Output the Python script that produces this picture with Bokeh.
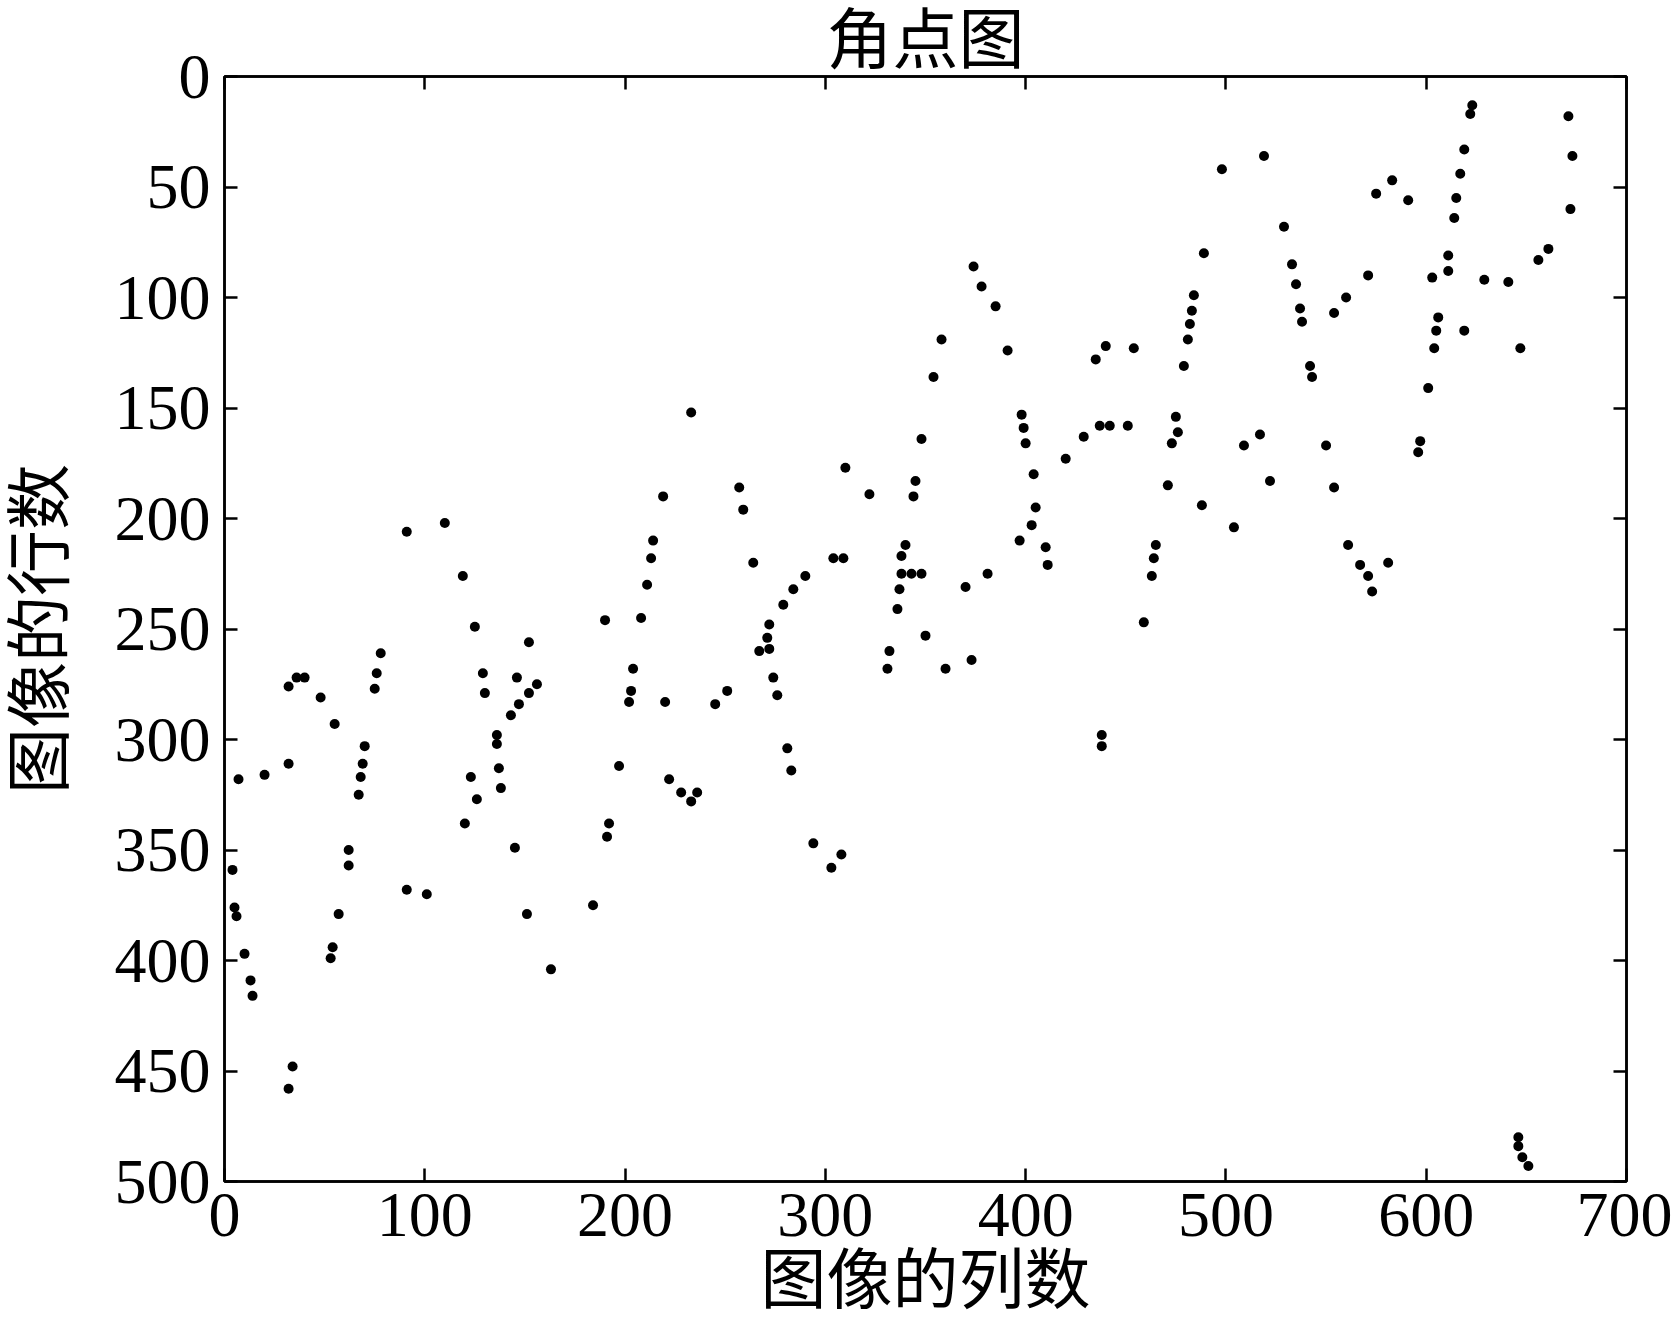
from bokeh.plotting import figure
from bokeh.models import Range1d, LinearAxis, FixedTicker
from bokeh.embed import file_html
from bokeh.resources import INLINE

# corner points: image column (x) and image row (y)
col_x = [233, 374, 378, 385, 358, 391, 354, 398, 399, 400, 348, 435, 440, 454, 429, 437, 442, 451,
         623, 622, 671, 619, 673, 519, 498, 617, 583, 575, 591, 615, 614, 672, 529, 489, 611, 661,
         656, 533, 571, 603, 611, 629, 641, 535, 484, 560, 483, 537, 538, 554, 482, 481, 606, 605,
         619, 604, 647, 479, 542, 543, 601, 475, 476, 473, 509, 517, 550, 597,
         596, 471, 522, 554, 488, 504, 561, 567, 581, 571, 573,
         420, 404, 310, 257, 259, 322, 345, 344, 405, 403, 397, 410, 411, 465, 464, 463, 459, 264,
         304, 309, 290, 284, 279, 272, 271, 272, 267, 274, 276, 251, 245, 281, 283, 236, 340, 338,
         338, 343, 348, 337, 336, 350, 332, 331, 360, 373, 370, 381, 438, 438,
         219, 91, 110, 214, 213, 211, 119, 190, 208, 125, 152, 78, 76, 75, 129, 130, 146, 156, 152,
         147, 143, 204, 203, 202, 220, 32, 36, 40, 48, 55, 136, 136, 137, 138, 70, 69, 68, 67, 32,
         20, 7, 123, 126, 197, 222, 228, 233,
         120, 192, 191, 145, 62, 62, 4, 91, 101, 184, 5, 6, 57, 151, 54, 53, 10, 13, 14, 163, 34, 32,
         294, 308, 303,
         646, 646, 648, 651]
row_y = [152, 86, 95, 104, 119, 124, 136, 153, 159, 166, 164, 128, 122, 123, 163, 158, 158, 158,
         13, 17, 18, 33, 36, 36, 42, 44, 47, 53, 56, 55, 64, 60, 68, 80, 81, 78,
         83, 85, 90, 91, 88, 92, 93, 94, 99, 100, 106, 105, 111, 107, 112, 119, 109, 115,
         115, 123, 123, 131, 131, 136, 141, 154, 161, 166, 167, 162, 167, 165,
         170, 185, 183, 186, 194, 204, 212, 221, 220, 226, 233,
         173, 180, 177, 186, 196, 189, 183, 190, 195, 203, 210, 213, 221, 212, 218, 226, 247, 220,
         218, 218, 226, 232, 239, 248, 254, 259, 260, 272, 280, 278, 284, 304, 314, 324, 212, 217,
         225, 225, 225, 232, 241, 253, 260, 268, 268, 264, 231, 225, 298, 303,
         190, 206, 202, 210, 218, 230, 226, 246, 245, 249, 256, 261, 270, 277, 270, 279, 272, 275, 279,
         284, 289, 268, 278, 283, 283, 276, 272, 272, 281, 293, 298, 302, 313, 322, 303, 311, 317, 325, 311,
         316, 318, 317, 327, 312, 318, 324, 328,
         338, 338, 344, 349, 350, 357, 359, 368, 370, 375, 376, 380, 379, 379, 394, 399, 397, 409, 416, 404, 448, 458,
         347, 352, 358,
         480, 484, 489, 493]

x_ticks = [0, 100, 200, 300, 400, 500, 600, 700]
y_ticks = [0, 50, 100, 150, 200, 250, 300, 350, 400, 450, 500]

title_text = "角点图"
x_label = "图像的列数"
y_label = "图像的行数"

NUM_FONT = "Liberation Serif"
# serif metrics first (compact text box), CJK glyphs come from Noto Sans CJK SC
CJK_FONT = "Liberation Serif, Noto Sans CJK SC"

p = figure(width=1672, height=1321, output_backend="svg", toolbar_location=None,
           x_range=Range1d(0, 700), y_range=Range1d(500, 0),
           min_border_left=222, min_border_right=46, min_border_top=76, min_border_bottom=140,
           title=title_text)
p.background_fill_color = "white"
p.border_fill_color = "white"
p.outline_line_color = "black"
p.outline_line_width = 2.5
p.grid.visible = False

p.title.align = "center"
p.title.text_font = CJK_FONT
p.title.text_font_size = "66px"
p.title.text_font_style = "normal"
p.title.text_color = "black"
p.title.standoff = 0


def style_axis(ax, ticks, show_labels):
    ax.ticker = FixedTicker(ticks=ticks)
    ax.axis_line_color = "black"
    ax.axis_line_width = 2.5
    ax.major_tick_line_color = "black"
    ax.major_tick_line_width = 2.5
    ax.major_tick_in = 13
    ax.major_tick_out = 0
    ax.minor_tick_line_color = None
    if show_labels:
        ax.major_label_text_font = NUM_FONT
        ax.major_label_text_font_size = "64px"
        ax.major_label_text_color = "black"
    else:
        ax.major_label_text_color = None
        ax.major_label_text_font_size = "1px"
        ax.major_label_standoff = 0
        ax.axis_label_standoff = 0


xa = p.xaxis[0]
ya = p.yaxis[0]
style_axis(xa, x_ticks, True)
style_axis(ya, y_ticks, True)
xa.major_label_standoff = 12
ya.major_label_standoff = 14
xa.axis_label = x_label
ya.axis_label = y_label
for ax in (xa, ya):
    ax.axis_label_text_font = CJK_FONT
    ax.axis_label_text_font_size = "66px"
    ax.axis_label_text_font_style = "normal"
    ax.axis_label_text_color = "black"
xa.axis_label_standoff = 5
ya.axis_label_standoff = 35

top = LinearAxis()
right = LinearAxis()
style_axis(top, x_ticks, False)
style_axis(right, y_ticks, False)
p.add_layout(top, "above")
p.add_layout(right, "right")

p.scatter(col_x, row_y, size=10, fill_color="black", line_color=None)

open("out.html", "w").write(file_html(p, INLINE))
